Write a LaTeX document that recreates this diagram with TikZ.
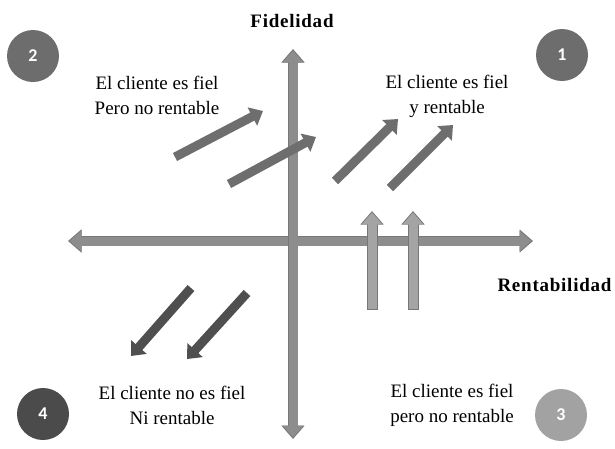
\documentclass[tikz,border=0pt]{standalone}
\usepackage{fontspec}
\setmainfont{Liberation Serif}
\newfontfamily\numfont{Carlito}
\newfontfamily\ejefont[LetterSpace=4]{Liberation Serif}
\usetikzlibrary{arrows.meta}
\definecolor{ejegris}{HTML}{8D8D8D}
\definecolor{ejeborde}{HTML}{777777}
\definecolor{flechamedia}{HTML}{6E6E6E}
\definecolor{flechaoscura}{HTML}{4F4F4F}
\definecolor{flechaclara}{HTML}{A4A4A4}
\definecolor{circmedio}{HTML}{6D6D6D}
\definecolor{circoscuro}{HTML}{4B4B4B}
\definecolor{circclaro}{HTML}{A2A2A2}

\begin{document}
\begin{tikzpicture}[x=1pt, y=-1pt,
		bloque/.style={line width=9pt, -{Triangle[width=20pt,length=12pt]}},
		borde/.style={line width=10.5pt, -{Triangle[width=22.5pt,length=13.5pt]}},
		cuadnum/.style={circle, minimum size=52pt, inner sep=0pt, text=white, font=\numfont\bfseries\fontsize{18}{18}\selectfont},
		cuadtexto/.style={align=center, font=\fontsize{19}{25}\selectfont},
		ejetexto/.style={font=\ejefont\bfseries\fontsize{19}{19}\selectfont}]
	\useasboundingbox (0,0) rectangle (615,448);
	% ejes
	\draw[borde, {Triangle[width=22.5pt,length=13.5pt]}-{Triangle[width=22.5pt,length=13.5pt]}, color=ejeborde] (68,241) -- (533,241);
	\draw[bloque, {Triangle[width=20pt,length=12pt]}-{Triangle[width=20pt,length=12pt]}, color=ejegris] (69.5,241) -- (531.5,241);
	\draw[borde, {Triangle[width=22.5pt,length=13.5pt]}-{Triangle[width=22.5pt,length=13.5pt]}, color=ejeborde] (293,49) -- (293,439);
	\draw[bloque, {Triangle[width=20pt,length=12pt]}-{Triangle[width=20pt,length=12pt]}, color=ejegris] (293,50.5) -- (293,437.5);
	\node[ejetexto] (fid) at (292,21) {Fidelidad};
	\node[ejetexto, anchor=east] (rent) at (615,285) {Rentabilidad};
	% flechas
	\draw[bloque, color=flechamedia] (175,157) -- (263,111);
	\draw[bloque, color=flechamedia] (229,184) -- (316,137);
	\draw[bloque, color=flechamedia] (335,181) -- (398,119);
	\draw[bloque, color=flechamedia] (390,188) -- (453,125);
	\draw[bloque, color=flechaoscura] (191,288) -- (131,356);
	\draw[bloque, color=flechaoscura] (247,293) -- (187,359);
	\foreach \x in {372,413} {
		\draw[borde, line width=11pt, color=ejeborde] (\x,309.5) -- (\x,211);
		\draw[bloque, color=flechaclara] (\x,308.5) -- (\x,212.5);
	}
	% cuadrantes
	\node[cuadnum, fill=circmedio] (c2) at (33,56) {2};
	\node[cuadnum, fill=circmedio] (c1) at (562,55) {1};
	\node[cuadnum, fill=circoscuro] (c4) at (43,414) {4};
	\node[cuadnum, fill=circclaro] (c3) at (561,415) {3};
	\node[cuadtexto] (t2) at (157,95) {El cliente es fiel\\Pero no rentable};
	\node[cuadtexto] (t1) at (447,96) {El cliente es fiel\\y rentable};
	\node[cuadtexto] (t4) at (172,405) {El cliente no es fiel\\Ni rentable};
	\node[cuadtexto] (t3) at (452,405) {El cliente es fiel\\pero no rentable};
\end{tikzpicture}
\end{document}
